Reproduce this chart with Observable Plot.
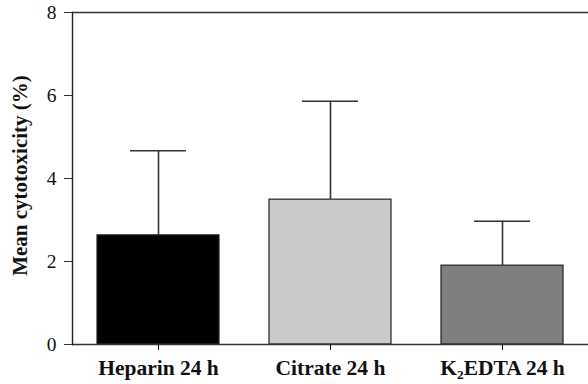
<!DOCTYPE html>
<html>
<head>
<meta charset="utf-8">
<script src="https://cdn.jsdelivr.net/npm/d3@7"></script>
<script src="https://cdn.jsdelivr.net/npm/@observablehq/plot@0.6"></script>
<style>
  html, body { margin: 0; padding: 0; background: #fff; }
</style>
</head>
<body>
<div id="chart"></div>
<script>
const categories = ["Heparin 24 h", "Citrate 24 h", "K2EDTA 24 h"];
const means = [2.63, 3.49, 1.90];
const errors = [2.04, 2.37, 1.07];
const fills = ["#000000", "#cacaca", "#7f7f7f"];
const yTicks = [0, 2, 4, 6, 8];
const yLabel = "Mean cytotoxicity (%)";

const data = categories.map((c, i) => ({cat: c, mean: means[i], top: means[i] + errors[i], fill: fills[i]}));

const plot = Plot.plot({
  width: 588,
  height: 384,
  marginTop: 12,
  marginBottom: 40,
  marginLeft: 72,
  marginRight: 0,
  style: {fontFamily: "'Liberation Serif', 'Times New Roman', serif", background: "#fff"},
  x: {domain: categories, paddingInner: 0.29, paddingOuter: 0.145, label: null},
  y: {domain: [0, 8], label: null},
  marks: [
    Plot.barY(data, {x: "cat", y: "mean", fill: d => d.fill, stroke: "#222", strokeWidth: 1.2}),
    Plot.ruleX(data, {x: "cat", y1: "mean", y2: "top", stroke: "#333", strokeWidth: 1.6}),
    Plot.tickY(data, {x: "cat", y: "top", stroke: "#333", strokeWidth: 1.6, insetLeft: 33, insetRight: 33}),
    Plot.ruleY([0], {stroke: "#333", strokeWidth: 1.6}),
    Plot.ruleY([8], {stroke: "#333", strokeWidth: 1.6}),
    Plot.frame({anchor: "left", stroke: "#222", strokeWidth: 1.4}),
    Plot.axisY({ticks: yTicks, tickSize: 8, tickPadding: 8, fontSize: 19.5, label: null, stroke: "#333", fill: "#111"}),
    Plot.axisX({tickSize: 6, tickPadding: 9, fontSize: 21.5, fontWeight: "bold", label: null, fill: "#111"}),
    Plot.text([yLabel], {text: d => d, frameAnchor: "left", textAnchor: "middle", lineAnchor: "middle", rotate: -90, dx: -52, dy: -3, fontSize: 21, fontWeight: "bold", fill: "#111"})
  ]
});

// subscript 2 in K2EDTA
d3.select(plot).selectAll("text").each(function() {
  if (this.textContent === "K2EDTA 24 h") {
    const t = d3.select(this);
    t.text("K");
    t.append("tspan").attr("font-size", "0.62em").attr("dy", "0.35em").text("2");
    t.append("tspan").attr("dy", "-0.22em").text("EDTA 24 h");
  }
});

document.getElementById("chart").appendChild(plot);
</script>
</body>
</html>
